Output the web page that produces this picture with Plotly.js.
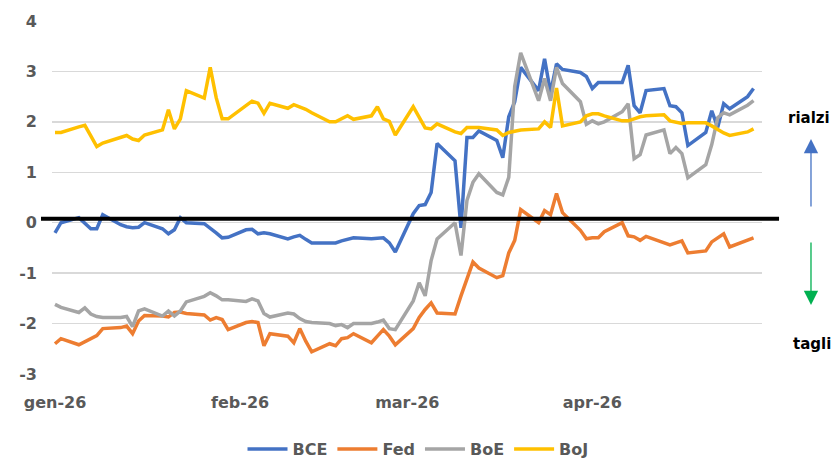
<!DOCTYPE html>
<html>
<head>
<meta charset="utf-8">
<script src="https://cdn.plot.ly/plotly-3.0.1.min.js"></script>
<style>html,body{margin:0;padding:0;background:#fff;}#chart{width:836px;height:462px;}</style>
</head>
<body>
<div id="chart"></div>
<script>
const dates = [
 "2026-01-01","2026-01-02","2026-01-05","2026-01-06","2026-01-07","2026-01-08","2026-01-09",
 "2026-01-12","2026-01-13","2026-01-14","2026-01-15","2026-01-16",
 "2026-01-19","2026-01-20","2026-01-21","2026-01-22","2026-01-23",
 "2026-01-26","2026-01-27","2026-01-28","2026-01-29","2026-01-30",
 "2026-02-02","2026-02-03","2026-02-04","2026-02-05","2026-02-06",
 "2026-02-09","2026-02-10","2026-02-11","2026-02-12","2026-02-13",
 "2026-02-16","2026-02-17","2026-02-18","2026-02-19","2026-02-20",
 "2026-02-23","2026-02-24","2026-02-25","2026-02-26","2026-02-27",
 "2026-03-02","2026-03-03","2026-03-04","2026-03-05","2026-03-06",
 "2026-03-09","2026-03-10","2026-03-11","2026-03-12","2026-03-13",
 "2026-03-16","2026-03-17","2026-03-18","2026-03-19","2026-03-20",
 "2026-03-23","2026-03-24","2026-03-25","2026-03-26","2026-03-27",
 "2026-03-30","2026-03-31","2026-04-01","2026-04-02","2026-04-03",
 "2026-04-06","2026-04-07","2026-04-08","2026-04-09","2026-04-10",
 "2026-04-13","2026-04-14","2026-04-15","2026-04-16","2026-04-17",
 "2026-04-20","2026-04-21","2026-04-22","2026-04-23","2026-04-24",
 "2026-04-27","2026-04-28"
];

const bce = [
 -0.2, 0.0, 0.1, 0.0, -0.12, -0.12, 0.16,
 -0.04, -0.08, -0.1, -0.09, 0.0,
 -0.12, -0.22, -0.14, 0.1, 0.0,
 -0.02, -0.1, -0.2, -0.3, -0.29,
 -0.14, -0.13, -0.22, -0.2, -0.22,
 -0.32, -0.28, -0.25, -0.33, -0.4,
 -0.4, -0.4, -0.36, -0.33, -0.3,
 -0.32, -0.31, -0.3, -0.4, -0.58,
 0.18, 0.34, 0.36, 0.6, 1.57,
 1.23, -0.1, 1.69, 1.69, 1.82,
 1.63, 1.29, 2.1, 2.4, 3.08,
 2.62, 3.25, 2.58, 3.15, 3.04,
 2.98, 2.9, 2.66, 2.78, 2.78,
 2.78, 3.12, 2.32, 2.18, 2.62,
 2.66, 2.32, 2.3, 2.18, 1.53,
 1.79, 2.22, 1.89, 2.36, 2.26,
 2.5, 2.66
];

const fed = [
 -2.4, -2.3, -2.42, -2.36, -2.3, -2.24, -2.1,
 -2.08, -2.05, -2.2, -1.95, -1.84,
 -1.85, -1.87, -1.78, -1.77, -1.8,
 -1.83, -1.93, -1.88, -1.92, -2.12,
 -1.98, -1.96, -1.98, -2.44, -2.2,
 -2.25, -2.38, -2.1, -2.35, -2.56,
 -2.4, -2.44, -2.3, -2.28, -2.2,
 -2.38, -2.25, -2.12, -2.25, -2.42,
 -2.1, -1.88, -1.72, -1.59, -1.79,
 -1.81, -1.45, -1.1, -0.78, -0.9,
 -1.09, -1.05, -0.6, -0.35, 0.26,
 0.0, 0.24, 0.16, 0.58, 0.2,
 -0.15, -0.32, -0.3, -0.3, -0.18,
 0.0, -0.26, -0.28, -0.35, -0.27,
 -0.4, -0.44, -0.4, -0.36, -0.6,
 -0.56, -0.38, -0.3, -0.22, -0.48,
 -0.35, -0.3
];

const boe = [
 -1.62, -1.68, -1.78, -1.69, -1.81, -1.86, -1.88,
 -1.88, -1.86, -2.06, -1.75, -1.71,
 -1.85, -1.75, -1.85, -1.75, -1.57,
 -1.46, -1.39, -1.45, -1.53, -1.53,
 -1.56, -1.51, -1.55, -1.8, -1.87,
 -1.79, -1.81, -1.9, -1.96, -1.98,
 -2.0, -2.04, -2.02, -2.08, -2.0,
 -2.0, -1.97, -1.93, -2.1, -2.12,
 -1.55, -1.19, -1.45, -0.75, -0.32,
 0.0, -0.65, 0.44, 0.8, 0.97,
 0.6, 0.55, 0.9, 2.7, 3.37,
 2.42, 2.86, 2.42, 3.08, 2.76,
 2.4, 1.95, 2.02, 1.96, 2.0,
 2.2, 2.36, 1.27, 1.35, 1.74,
 1.84, 1.37, 1.49, 1.37, 0.89,
 1.15, 1.55, 2.08, 2.18, 2.14,
 2.33, 2.42
];

const boj = [
 1.79, 1.79, 1.9, 1.93, 1.72, 1.51, 1.58,
 1.69, 1.73, 1.66, 1.63, 1.74,
 1.84, 2.24, 1.86, 2.06, 2.62,
 2.47, 3.08, 2.48, 2.06, 2.06,
 2.33, 2.41, 2.37, 2.17, 2.37,
 2.27, 2.34, 2.3, 2.25, 2.18,
 2.0, 2.0, 2.07, 2.12, 2.05,
 2.12, 2.3, 2.06, 2.01, 1.74,
 2.3, 2.08, 1.88, 1.86, 1.96,
 1.8, 1.77, 1.89, 1.89, 1.89,
 1.84, 1.73, 1.79, 1.82, 1.84,
 1.86, 2.0, 1.89, 2.67, 1.92,
 2.0, 2.12, 2.16, 2.16, 2.12,
 2.02, 2.02, 2.06, 2.1, 2.12,
 2.14, 2.02, 2.0, 1.97, 1.98,
 1.98, 1.92, 1.84, 1.78, 1.73,
 1.8, 1.86
];

const seriesNames = ["BCE", "Fed", "BoE", "BoJ"];
const seriesColors = ["#4472C4", "#ED7D31", "#A5A5A5", "#FFC000"];
const seriesValues = [bce, fed, boe, boj];

const tickDates = ["2026-01-01", "2026-02-01", "2026-03-01", "2026-04-01"];
const tickLabels = ["gen-26", "feb-26", "mar-26", "apr-26"];
const yTicks = [-3, -2, -1, 0, 1, 2, 3, 4];

const traces = seriesNames.map((n, i) => ({
  type: "scatter",
  mode: "lines",
  name: n,
  x: dates,
  y: seriesValues[i],
  line: {color: seriesColors[i], width: 3.5, shape: "linear"},
  hoverinfo: "x+y+name"
}));

const fontFam = "DejaVu Sans, Arial, sans-serif";
const tickFont = {family: fontFam, size: 16, color: "#595959", weight: 700};

const layout = {
  width: 836, height: 462,
  margin: {l: 52, r: 74, t: 21, b: 88, autoexpand: false},
  paper_bgcolor: "#ffffff",
  plot_bgcolor: "#ffffff",
  showlegend: true,
  xaxis: {
    type: "date",
    range: ["2025-12-31 12:00", "2026-04-29 10:00"],
    tickvals: tickDates,
    ticktext: tickLabels,
    showgrid: false,
    zeroline: false,
    showline: false,
    ticks: "",
    tickfont: tickFont,
    ticklabelstandoff: 17
  },
  yaxis: {
    range: [-3, 4],
    tickvals: yTicks,
    ticktext: yTicks.map(String),
    showgrid: true,
    gridcolor: "#d9d9d9",
    gridwidth: 1.3,
    zeroline: false,
    showline: false,
    ticks: "",
    tickfont: tickFont,
    ticklabelstandoff: 14
  },
  legend: {
    orientation: "h",
    xref: "container", yref: "paper",
    x: 0.5, xanchor: "center",
    y: -0.213, yanchor: "middle",
    font: {family: fontFam, size: 16, color: "#595959", weight: 700},
    itemwidth: 40,
    tracegroupgap: 0
  },
  shapes: [
    {type: "line", xref: "paper", yref: "y", x0: -0.0155, x1: 1.024, y0: 0.08, y1: 0.08,
     line: {color: "#000000", width: 4}, layer: "above"}
  ],
  annotations: [
    {xref: "paper", yref: "paper", x: 1.0662, y: 0.725, xanchor: "center", yanchor: "middle",
     text: "rialzi", showarrow: false,
     font: {family: fontFam, size: 15, color: "#000000", weight: 800}},
    {xref: "paper", yref: "paper", x: 1.0705, y: 0.085, xanchor: "center", yanchor: "middle",
     text: "tagli", showarrow: false,
     font: {family: fontFam, size: 15, color: "#000000", weight: 800}},
    {xref: "paper", yref: "paper", x: 1.069, y: 0.6657, ax: 0, ay: 69, axref: "pixel", ayref: "pixel",
     text: "", showarrow: true, arrowhead: 2, arrowsize: 2.2, arrowwidth: 1.3, arrowcolor: "#4472C4"},
    {xref: "paper", yref: "paper", x: 1.069, y: 0.1955, ax: 0, ay: -64, axref: "pixel", ayref: "pixel",
     text: "", showarrow: true, arrowhead: 2, arrowsize: 2.2, arrowwidth: 1.3, arrowcolor: "#00B050"}
  ]
};

Plotly.newPlot("chart", traces, layout, {displayModeBar: false, staticPlot: true});
</script>
</body>
</html>
